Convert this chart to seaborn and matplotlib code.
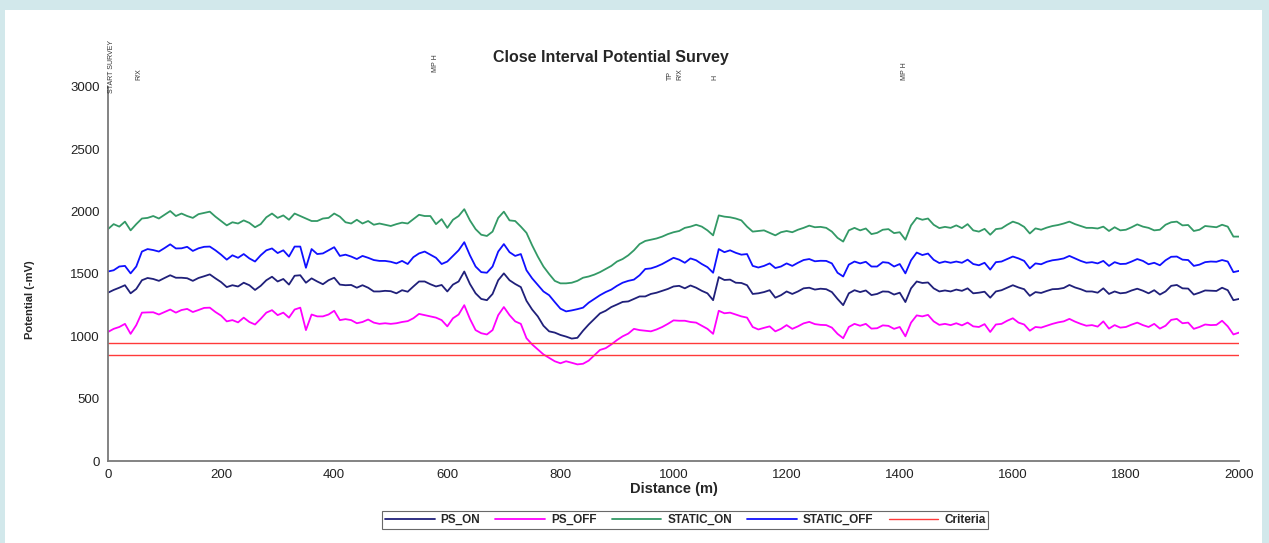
import numpy as np
import pandas as pd
import seaborn as sns
import matplotlib.pyplot as plt
from matplotlib.patches import Rectangle

# survey stations every 10 m
DIST = np.arange(0, 2001, 10)

PS_ON = [
    1350, 1372, 1390, 1410, 1345, 1380, 1450, 1468, 1460, 1445,
    1468, 1490, 1470, 1470, 1466, 1445, 1468, 1482, 1497, 1465,
    1435, 1395, 1410, 1400, 1430, 1410, 1372, 1405, 1450, 1478,
    1440, 1460, 1415, 1486, 1490, 1430, 1465, 1440, 1418, 1450,
    1470, 1415, 1410, 1412, 1390, 1410, 1390, 1360, 1360, 1365,
    1362, 1345, 1370, 1358, 1400, 1440, 1440, 1418, 1400, 1412,
    1360, 1415, 1440, 1520, 1420, 1345, 1300, 1290, 1340, 1450,
    1505, 1450, 1420, 1395, 1285, 1215, 1160, 1085, 1040, 1030,
    1011, 998, 982, 988, 1045, 1095, 1140, 1184, 1205, 1235,
    1255, 1276, 1280, 1300, 1320, 1320, 1340, 1350, 1365, 1380,
    1400, 1405, 1385, 1408, 1390, 1365, 1345, 1290, 1475, 1452,
    1455, 1430, 1428, 1410, 1340, 1345, 1355, 1370, 1310, 1330,
    1360, 1340, 1360, 1385, 1390, 1375, 1382, 1378, 1355, 1300,
    1250, 1345, 1370, 1355, 1368, 1331, 1340, 1360, 1358, 1335,
    1350, 1275, 1385, 1440, 1428, 1432, 1385, 1360, 1368, 1360,
    1375, 1365, 1385, 1345, 1350, 1358, 1310, 1360, 1370, 1390,
    1410, 1392, 1378, 1325, 1355, 1348, 1364, 1378, 1380, 1388,
    1412, 1392, 1378, 1360, 1360, 1350, 1385, 1340, 1360, 1345,
    1350, 1368, 1382, 1366, 1345, 1370, 1335, 1360, 1405, 1412,
    1385, 1383, 1335, 1350, 1368, 1366, 1364, 1390, 1370, 1290,
    1300]

PS_OFF = [
    1035, 1060, 1075, 1100, 1020, 1090, 1190, 1192, 1193, 1175,
    1195, 1215, 1190, 1211, 1220, 1195, 1211, 1228, 1230, 1195,
    1166, 1120, 1130, 1112, 1150, 1115, 1095, 1140, 1190, 1210,
    1170, 1190, 1150, 1215, 1230, 1050, 1175, 1160, 1160, 1175,
    1205, 1130, 1138, 1130, 1105, 1115, 1135, 1110, 1100, 1105,
    1100, 1105, 1115, 1122, 1145, 1180, 1170, 1160, 1150, 1130,
    1080, 1145, 1175, 1250, 1140, 1050, 1025, 1015, 1050, 1170,
    1235, 1170, 1120, 1100, 985, 935, 895, 855, 828, 800,
    784, 800, 788, 775, 780, 805, 848, 891, 905, 935,
    970, 1000, 1022, 1060, 1050, 1045, 1040, 1055, 1075, 1100,
    1128, 1125, 1125, 1115, 1110, 1085, 1060, 1020, 1205, 1185,
    1190, 1175, 1160, 1150, 1075, 1055, 1068, 1080, 1040, 1060,
    1090, 1060, 1080, 1104, 1116, 1098, 1092, 1090, 1070, 1020,
    985, 1075, 1100, 1085, 1100, 1062, 1065, 1088, 1084, 1060,
    1075, 1000, 1110, 1168, 1160, 1172, 1120, 1092, 1100, 1090,
    1105, 1088, 1110, 1080, 1075, 1098, 1035, 1095, 1100, 1125,
    1145, 1110, 1095, 1045, 1075, 1070, 1085, 1100, 1112, 1120,
    1140, 1118, 1100, 1085, 1090, 1078, 1120, 1062, 1090, 1070,
    1075, 1094, 1110, 1090, 1075, 1100, 1062, 1085, 1132, 1140,
    1105, 1110, 1060, 1075, 1095, 1090, 1092, 1125, 1080, 1015,
    1030]

STATIC_ON = [
    1860, 1900, 1880, 1920, 1850, 1900, 1945, 1950, 1965, 1945,
    1975, 2005, 1965, 1985, 1965, 1950, 1980, 1990, 2000, 1960,
    1925, 1890, 1915, 1905, 1930, 1910, 1875, 1900, 1955, 1985,
    1950, 1970, 1935, 1985, 1965, 1945, 1925, 1925, 1945, 1950,
    1985, 1960, 1915, 1905, 1935, 1905, 1925, 1895, 1905, 1895,
    1885, 1900, 1912, 1905, 1940, 1975, 1965, 1965, 1900, 1940,
    1870, 1935, 1965, 2020, 1930, 1860, 1815, 1805, 1840, 1950,
    2000, 1930, 1925, 1880, 1830, 1730, 1640, 1560, 1500, 1445,
    1425, 1425, 1430, 1445, 1470, 1480, 1495, 1515, 1540, 1565,
    1600, 1620, 1650, 1690, 1740, 1765, 1775, 1785, 1800, 1820,
    1835, 1845, 1870, 1880, 1895, 1880, 1850, 1810, 1970, 1960,
    1955, 1945, 1930, 1880, 1840, 1845, 1850, 1830, 1810, 1835,
    1845, 1835, 1855, 1870, 1888, 1875, 1878, 1870, 1840, 1790,
    1760, 1850, 1870, 1850, 1865, 1820, 1830, 1855, 1860, 1828,
    1835, 1775, 1890, 1950, 1935, 1945, 1895, 1868, 1878, 1870,
    1890, 1868, 1900, 1850, 1840, 1862, 1815, 1860, 1866, 1895,
    1920, 1905, 1878, 1825, 1866, 1855, 1872, 1885, 1893, 1905,
    1920, 1900, 1885, 1870, 1870, 1865, 1880, 1845, 1875, 1850,
    1855, 1875, 1898, 1880, 1870, 1850, 1855, 1895, 1915, 1920,
    1890, 1893, 1845, 1855, 1885, 1880, 1875, 1895, 1880, 1800,
    1800]

STATIC_OFF = [
    1520, 1530, 1560, 1565, 1505, 1560, 1680, 1700, 1692, 1680,
    1708, 1738, 1705, 1706, 1718, 1685, 1706, 1718, 1720, 1690,
    1655, 1615, 1650, 1630, 1660, 1625, 1600, 1650, 1690, 1705,
    1668, 1690, 1640, 1720, 1720, 1550, 1700, 1660, 1665, 1690,
    1715, 1645, 1655, 1640, 1620, 1645, 1630, 1612, 1605, 1605,
    1598, 1585, 1605, 1580, 1635, 1665, 1680, 1655, 1630, 1580,
    1600, 1645, 1690, 1755, 1650, 1560, 1515, 1510, 1560, 1680,
    1740, 1675, 1645, 1660, 1530, 1465, 1412, 1360, 1330, 1275,
    1222, 1200, 1208, 1218, 1230, 1270, 1300, 1330, 1355, 1375,
    1405, 1430, 1445, 1455, 1490, 1540, 1545, 1560, 1580, 1605,
    1630, 1615, 1590, 1625, 1610, 1580, 1555, 1510, 1700, 1675,
    1690, 1670, 1655, 1660, 1565, 1552, 1565, 1585, 1548, 1560,
    1585, 1565, 1590, 1612, 1620, 1602, 1606, 1605, 1585, 1510,
    1480, 1575, 1600, 1585, 1598, 1560, 1560, 1595, 1590, 1560,
    1580, 1505, 1610, 1672, 1652, 1664, 1614, 1588, 1600, 1590,
    1600, 1590, 1615, 1580, 1570, 1590, 1535, 1595, 1600, 1620,
    1640, 1625, 1605, 1545, 1585, 1578, 1598, 1610, 1616, 1625,
    1645, 1625, 1605, 1590, 1595, 1585, 1605, 1565, 1595, 1580,
    1582, 1600, 1620, 1605, 1578, 1590, 1570, 1610, 1638, 1640,
    1615, 1612, 1565, 1575, 1595, 1600, 1598, 1612, 1600, 1515,
    1525]

CRITERIA = [950, 850]

SERIES = ['PS_ON', 'PS_OFF', 'STATIC_ON', 'STATIC_OFF']
COLORS = ['#20207a', '#ff00ff', '#339966', '#1010ff']

MARKER_DIST = [7, 55, 580, 995, 1011, 1073, 1409]
MARKER_LABELS = ['START SURVEY', 'R/X', 'MP H', 'TP', 'R/X', 'H', 'MP H']
MARKER_Y = [0.985, 1.02, 1.04, 1.02, 1.02, 1.02, 1.02]

df = pd.DataFrame({'Distance': DIST, 'PS_ON': PS_ON, 'PS_OFF': PS_OFF,
                   'STATIC_ON': STATIC_ON, 'STATIC_OFF': STATIC_OFF})
long = df.melt(id_vars='Distance', var_name='Series', value_name='Potential')

sns.set_style('white')
plt.rcParams['font.family'] = ['Liberation Sans', 'DejaVu Sans']

fig = plt.figure(figsize=(12.69, 5.43), dpi=100)
fig.patch.set_facecolor('#d2e8eb')
fig.add_artist(Rectangle((0.004, 0), 0.9905, 0.9816, transform=fig.transFigure,
                         facecolor='white', edgecolor='none', zorder=0))
ax = fig.add_axes([0.0851, 0.151, 0.8913, 0.6888])

sns.lineplot(data=long, x='Distance', y='Potential', hue='Series',
             hue_order=SERIES, palette=COLORS, linewidth=1.3,
             estimator=None, ax=ax)
for i, c in enumerate(CRITERIA):
    ax.axhline(c, color='#ff3a3a', lw=1.0, label='Criteria' if i == 0 else None)

ax.set_xlim(0, 2000)
ax.set_ylim(0, 3000)
ax.set_xticks(range(0, 2001, 200))
ax.set_yticks(range(0, 3001, 500))
sns.despine(ax=ax)
for s in ['left', 'bottom']:
    ax.spines[s].set_color('#7a7a7a')
    ax.spines[s].set_linewidth(1.3)
ax.tick_params(direction='out', length=4, width=1, color='#7a7a7a',
               labelsize=9.5, labelcolor='#222222', pad=2)

ax.set_xlabel('Distance (m)', fontsize=10.5, fontweight='bold')
ax.xaxis.set_label_coords(0.5, -0.055)
ax.set_ylabel('Potential (-mV)', fontsize=8, fontweight='bold')
ax.yaxis.set_label_coords(-0.0645, 0.43)

fig.text(0.4815, 0.895, 'Close Interval Potential Survey', fontsize=11.5,
         fontweight='bold', ha='center', va='center')

for d, lab, y in zip(MARKER_DIST, MARKER_LABELS, MARKER_Y):
    ax.text(d, y, lab, transform=ax.get_xaxis_transform(), rotation=90,
            fontsize=5, ha='center', va='bottom', color='#333333')

handles, labels = ax.get_legend_handles_labels()
if ax.get_legend() is not None:
    ax.get_legend().remove()
leg = fig.legend(handles, labels, ncol=5, loc='center',
                 bbox_to_anchor=(0.54, 0.042), frameon=True, fancybox=False,
                 edgecolor='#444444', prop={'size': 8.5, 'weight': 'bold'},
                 handlelength=4.2, columnspacing=1.3, handletextpad=0.5,
                 borderpad=0.25)
leg.get_frame().set_linewidth(0.8)

fig.savefig('out.png', dpi=100)
